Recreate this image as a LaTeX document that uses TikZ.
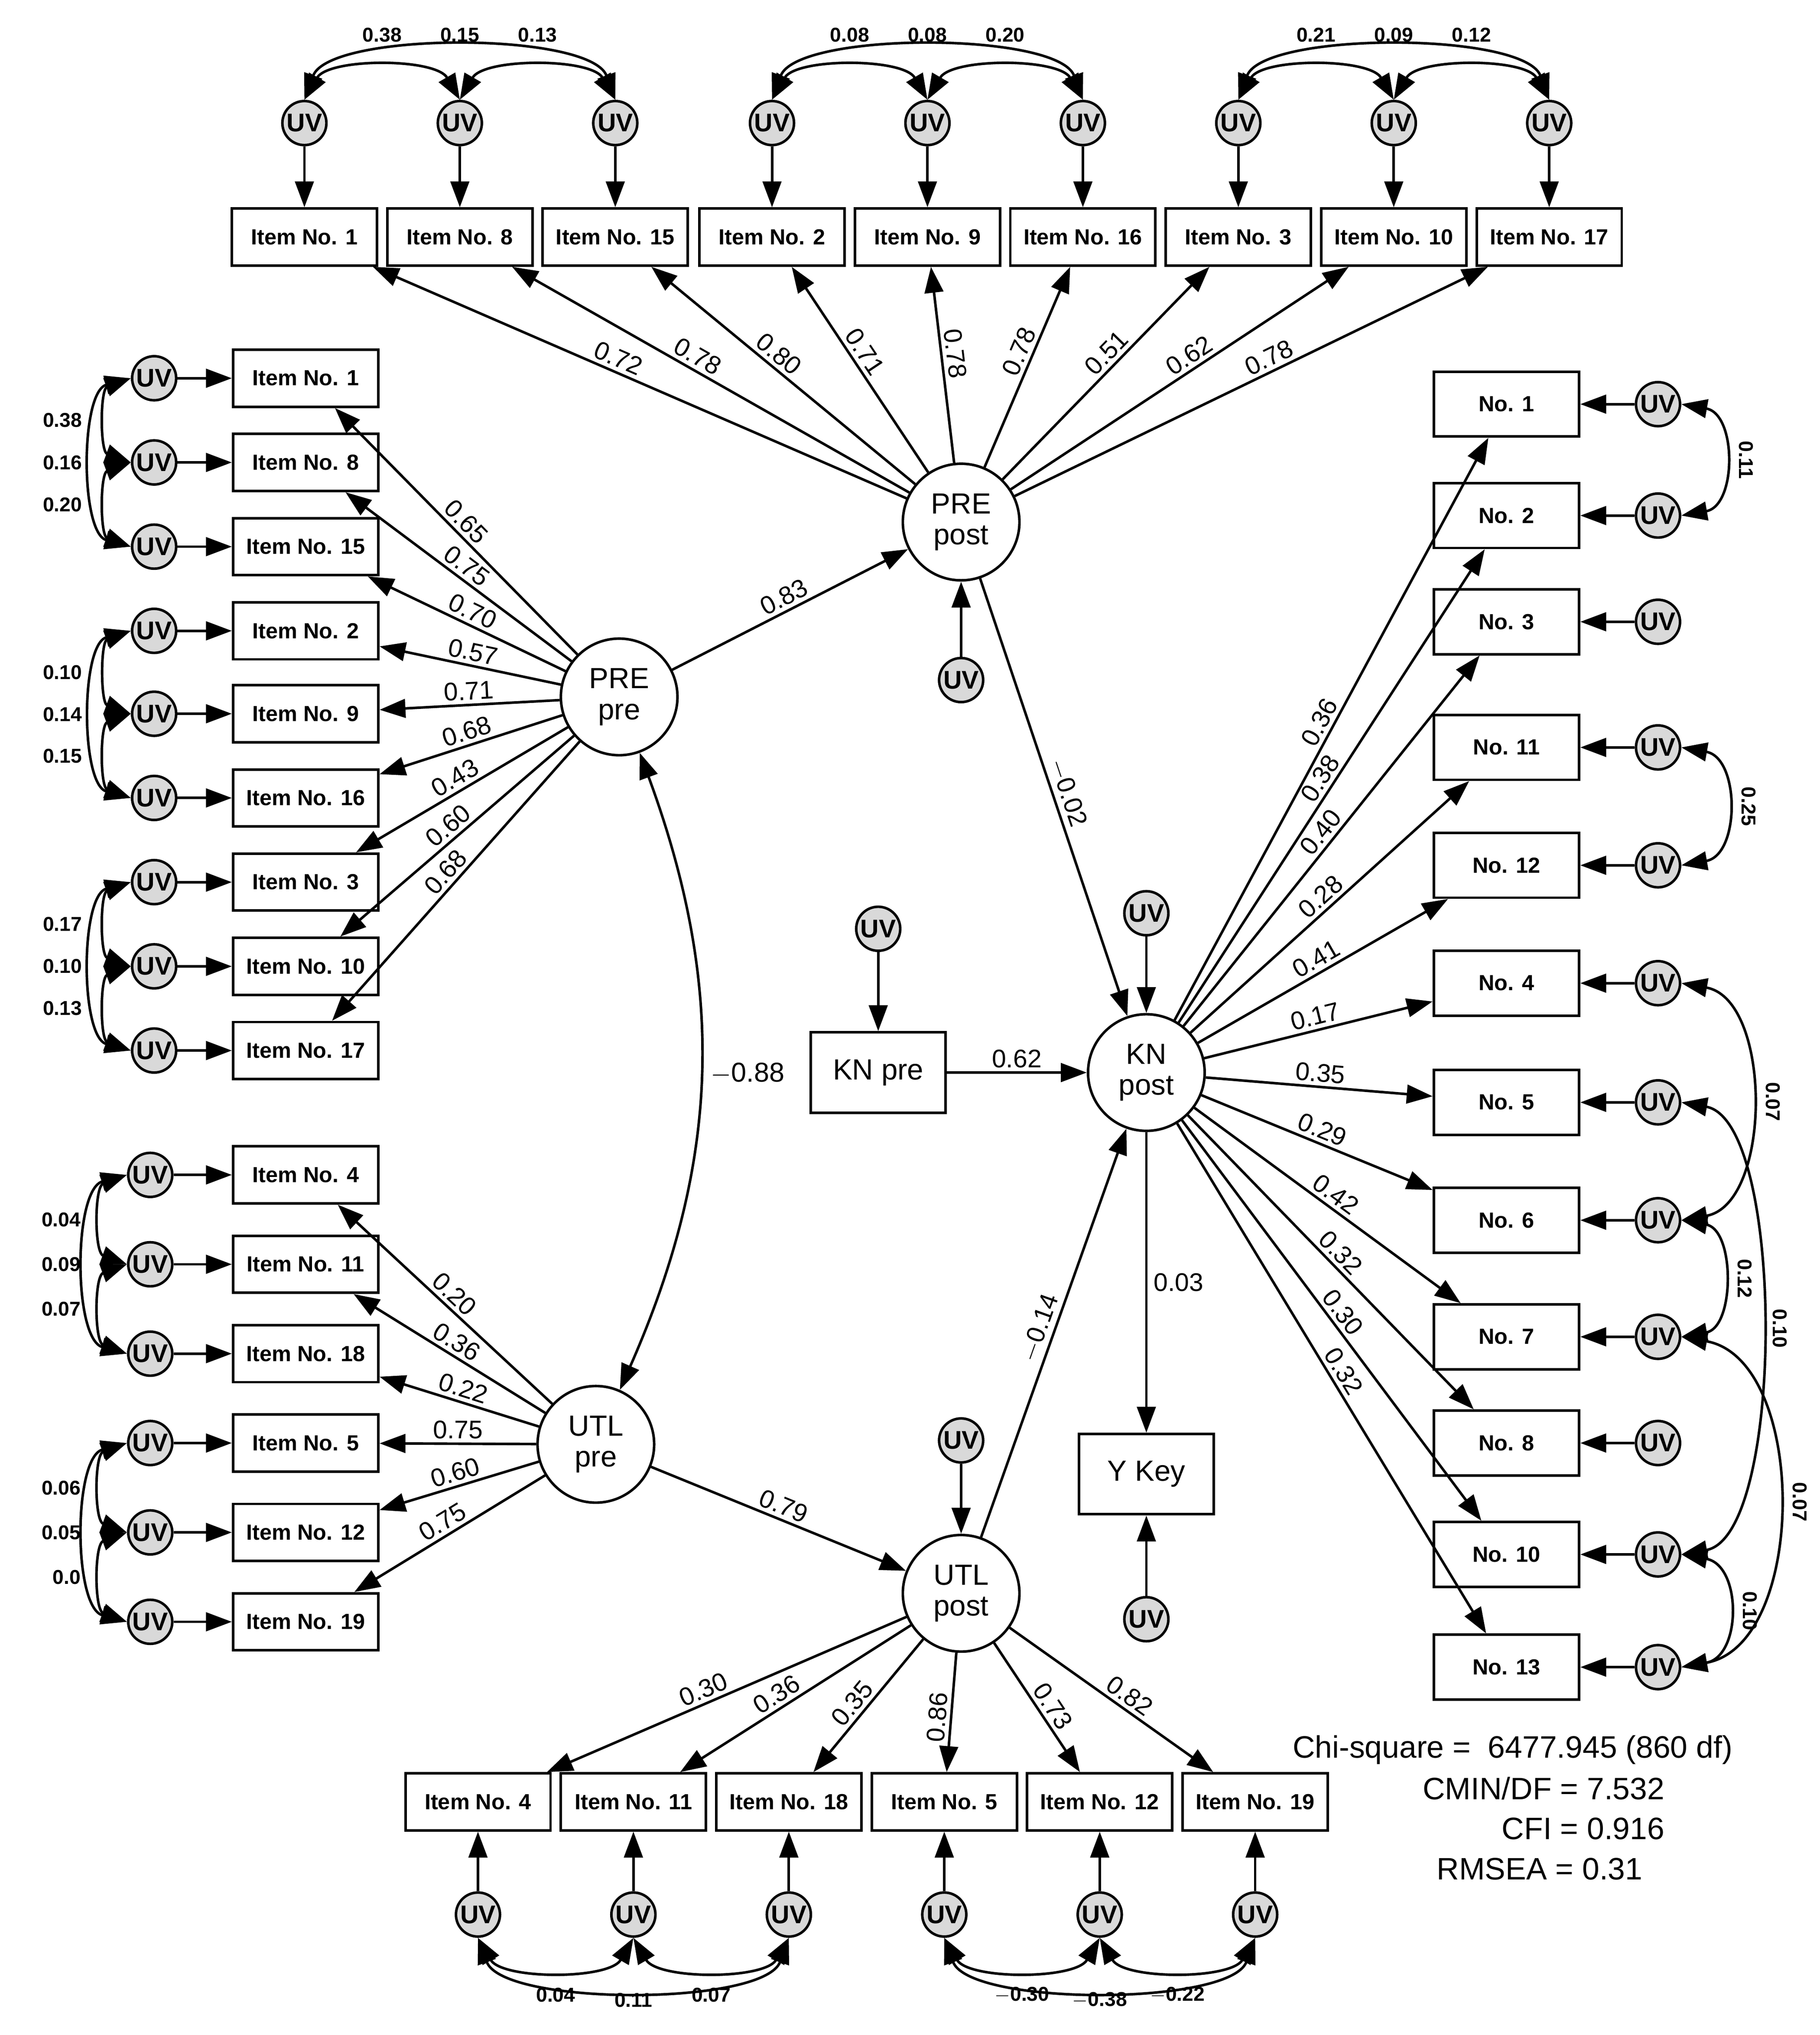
\documentclass[tikz,border=0pt]{standalone}
\usepackage{fontspec}
\setmainfont{Liberation Sans}
\usetikzlibrary{arrows.meta}
\begin{document}
\begin{tikzpicture}[x=0.025cm,y=-0.025cm,
  ln/.style={line width=1.4pt},
  ar/.style={ln,-{Triangle[length=0.5cm,width=0.36cm]}},
  dar/.style={ln,{Triangle[length=0.5cm,width=0.36cm]}-{Triangle[length=0.5cm,width=0.36cm]}},
  box/.style={draw,line width=1.4pt,minimum width=2.8cm,minimum height=1.1cm,inner sep=0pt,font=\fontsize{12}{14}\selectfont\bfseries},
  bigbox/.style={draw,line width=1.4pt,minimum width=2.6cm,minimum height=1.55cm,font=\fontsize{16}{18}\selectfont},
  uv/.style={draw,circle,fill=black!15,line width=1.4pt,minimum size=0.85cm,inner sep=0pt,font=\fontsize{14}{14}\selectfont\bfseries},
  lat/.style={draw,circle,line width=1.4pt,minimum size=2.25cm,inner sep=0pt,align=center,font=\fontsize{16}{17}\selectfont},
  lab/.style={font=\fontsize{14}{14}\selectfont,sloped,above,inner sep=2pt},
  cl/.style={font=\fontsize{11}{11}\selectfont\bfseries,inner sep=1pt}]
\useasboundingbox (0,0) rectangle (1405,1571);
% latent
\node[lat] (prepost) at (742,403) {PRE\\post};
\node[lat] (prepre) at (478,538) {PRE\\pre};
\node[lat] (utlpre) at (460,1115) {UTL\\pre};
\node[lat] (utlpost) at (742,1230) {UTL\\post};
\node[lat] (knpost) at (885,828) {KN\\post};
\node[bigbox] (knpre) at (678,828) {KN pre};
\node[bigbox] (ykey) at (885,1138) {Y Key};
\node[uv] (uvpp) at (742,525) {UV};
\node[uv] (uvkp) at (678,717) {UV};
\node[uv] (uvkn) at (885,705) {UV};
\node[uv] (uvup) at (742,1112) {UV};
\node[uv] (uvy) at (885,1250) {UV};
\draw[ar] (uvpp) -- (prepost);
\draw[ar] (uvkp) -- (knpre);
\draw[ar] (uvkn) -- (knpost);
\draw[ar] (uvup) -- (utlpost);
\draw[ar] (uvy) -- (ykey);
\draw[ar] (prepre) -- node[lab]{0.83} (prepost);
\draw[ar] (utlpre) -- node[lab]{0.79} (utlpost);
\draw[ar] (knpre) -- node[lab]{0.62} (knpost);
\draw[ar] (prepost) -- node[lab]{$-$0.02} (knpost);
\draw[ar] (utlpost) -- node[lab]{$-$0.14} (knpost);
\draw[ar] (knpost) -- node[font=\fontsize{14}{14}\selectfont,right,pos=0.5]{0.03} (ykey);
\draw[dar] (prepre) to[bend left=22] node[font=\fontsize{15}{15}\selectfont,right,xshift=2pt]{$-$0.88} (utlpre);
% top row
\foreach \i/\x/\t/\l in {1/235/1/0.72,2/355/8/0.78,3/475/15/0.80,4/596/2/0.71,5/716/9/0.78,6/836/16/0.78,7/956/3/0.51,8/1076/10/0.62,9/1196/17/0.78}{
  \node[box] (tb\i) at (\x,183) {Item No. \t};
  \node[uv] (tu\i) at (\x,95) {UV};
  \draw[ar] (tu\i) -- (tb\i);
  \draw[ar] (prepost) -- node[lab,pos=0.55]{\l} (tb\i);
}
\foreach \a/\b/\c/\p/\q/\r in {1/2/3/0.38/0.15/0.13,4/5/6/0.08/0.08/0.20,7/8/9/0.21/0.09/0.12}{
  \draw[dar] (tu\a.north) to[out=60,in=120,looseness=0.8] (tu\b.north);
  \draw[dar] (tu\b.north) to[out=60,in=120,looseness=0.8] (tu\c.north);
  \draw[dar] (tu\a.north) to[out=70,in=110,looseness=0.6] (tu\c.north);
  \path (tu\a) -- node[cl,pos=0.5,yshift=1.7cm]{\p} (tu\b);
  \path (tu\a) -- node[cl,pos=0.5,yshift=1.7cm]{\q} (tu\c);
  \path (tu\b) -- node[cl,pos=0.5,yshift=1.7cm]{\r} (tu\c);
}
% left PRE
\foreach \i/\y/\t/\l in {1/292/1/0.65,2/357/8/0.75,3/422/15/0.70,4/487/2/0.57,5/551/9/0.71,6/616/16/0.68,7/681/3/0.43,8/746/10/0.60,9/811/17/0.68}{
  \node[box] (lb\i) at (236,\y) {Item No. \t};
  \node[uv] (lu\i) at (119,\y) {UV};
  \draw[ar] (lu\i) -- (lb\i);
  \draw[ar] (prepre) -- node[lab,pos=0.5]{\l} (lb\i);
}
\foreach \a/\b/\c/\p/\q/\r in {1/2/3/0.38/0.16/0.20,4/5/6/0.10/0.14/0.15,7/8/9/0.17/0.10/0.13}{
  \draw[dar] (lu\a.west) to[out=200,in=160] (lu\b.west);
  \draw[dar] (lu\b.west) to[out=200,in=160] (lu\c.west);
  \draw[dar] (lu\a.west) to[out=195,in=165,looseness=0.8] (lu\c.west);
  \path (lu\a) -- node[cl,pos=0.5,anchor=east,xshift=-1.35cm]{\p} (lu\b);
  \path (lu\a) -- node[cl,pos=0.5,anchor=east,xshift=-1.35cm]{\q} (lu\c);
  \path (lu\b) -- node[cl,pos=0.5,anchor=east,xshift=-1.35cm]{\r} (lu\c);
}
% left UTL
\foreach \i/\y/\t/\l in {1/907/4/0.20,2/976/11/0.36,3/1045/18/0.22,4/1114/5/0.75,5/1183/12/0.60,6/1252/19/0.75}{
  \node[box] (mb\i) at (236,\y) {Item No. \t};
  \node[uv] (mu\i) at (116,\y) {UV};
  \draw[ar] (mu\i) -- (mb\i);
  \draw[ar] (utlpre) -- node[lab,pos=0.5]{\l} (mb\i);
}
\foreach \a/\b/\c/\p/\q/\r in {1/2/3/0.04/0.09/0.07,4/5/6/0.06/0.05/0.0}{
  \draw[dar] (mu\a.west) to[out=200,in=160] (mu\b.west);
  \draw[dar] (mu\b.west) to[out=200,in=160] (mu\c.west);
  \draw[dar] (mu\a.west) to[out=195,in=165,looseness=0.8] (mu\c.west);
  \path (mu\a) -- node[cl,pos=0.5,anchor=east,xshift=-1.3cm]{\p} (mu\b);
  \path (mu\a) -- node[cl,pos=0.5,anchor=east,xshift=-1.3cm]{\q} (mu\c);
  \path (mu\b) -- node[cl,pos=0.5,anchor=east,xshift=-1.3cm]{\r} (mu\c);
}
% bottom
\foreach \i/\x/\t/\l in {1/369/4/0.30,2/489/11/0.36,3/609/18/0.35,4/729/5/0.86,5/849/12/0.73,6/969/19/0.82}{
  \node[box] (bb\i) at (\x,1391) {Item No. \t};
  \node[uv] (bu\i) at (\x,1478) {UV};
  \draw[ar] (bu\i) -- (bb\i);
  \draw[ar] (utlpost) -- node[lab,pos=0.55]{\l} (bb\i);
}
\foreach \a/\b/\c/\p/\q/\r in {1/2/3/0.04/0.11/0.07,4/5/6/$-$0.30/$-$0.38/$-$0.22}{
  \draw[dar] (bu\a.south) to[out=-60,in=-120,looseness=0.8] (bu\b.south);
  \draw[dar] (bu\b.south) to[out=-60,in=-120,looseness=0.8] (bu\c.south);
  \draw[dar] (bu\a.south) to[out=-70,in=-110,looseness=0.6] (bu\c.south);
  \path (bu\a) -- node[cl,pos=0.5,yshift=-1.55cm]{\p} (bu\b);
  \path (bu\a) -- node[cl,pos=0.5,yshift=-1.65cm]{\q} (bu\c);
  \path (bu\b) -- node[cl,pos=0.5,yshift=-1.55cm]{\r} (bu\c);
}
% right
\foreach \i/\y/\t/\l in {1/312/1/0.36,2/398/2/0.38,3/480/3/0.40,4/577/11/0.28,5/668/12/0.41,6/759/4/0.17,7/851/5/0.35,8/942/6/0.29,9/1032/7/0.42,10/1114/8/0.32,11/1200/10/0.30,12/1287/13/0.32}{
  \node[box,minimum height=1.25cm] (rb\i) at (1163,\y) {No. \t};
  \node[uv] (ru\i) at (1280,\y) {UV};
  \draw[ar] (ru\i) -- (rb\i);
  \draw[ar] (knpost) -- node[lab,pos=0.5]{\l} (rb\i);
}
\foreach \a/\b/\l/\lo in {1/2/0.11/1.3,4/5/0.25/1.3,6/8/0.07/1.0,8/9/0.12/1.2,9/12/0.07/1.0,11/12/0.10/1.4}{
  \draw[dar] (ru\a.east) to[out=-10,in=10,looseness=\lo] node[cl,rotate=-90,anchor=south,yshift=0.25cm]{\l} (ru\b.east);
}
\draw[dar] (ru7.east) to[out=-10,in=10,looseness=0.6] node[cl,rotate=-90,anchor=south,yshift=0.2cm]{0.10} (ru11.east);
% fit
\node[anchor=base west,font=\fontsize{17}{17}\selectfont] (fit1) at (993,1357) {Chi-square =\ \ 6477.945 (860 df)};
\node[anchor=base east,font=\fontsize{17}{17}\selectfont] (fit2) at (1290,1389) {CMIN/DF = 7.532};
\node[anchor=base east,font=\fontsize{17}{17}\selectfont] (fit3) at (1290,1420) {CFI = 0.916};
\node[anchor=base east,font=\fontsize{17}{17}\selectfont] (fit4) at (1273,1451) {RMSEA = 0.31};
\end{tikzpicture}
\end{document}
